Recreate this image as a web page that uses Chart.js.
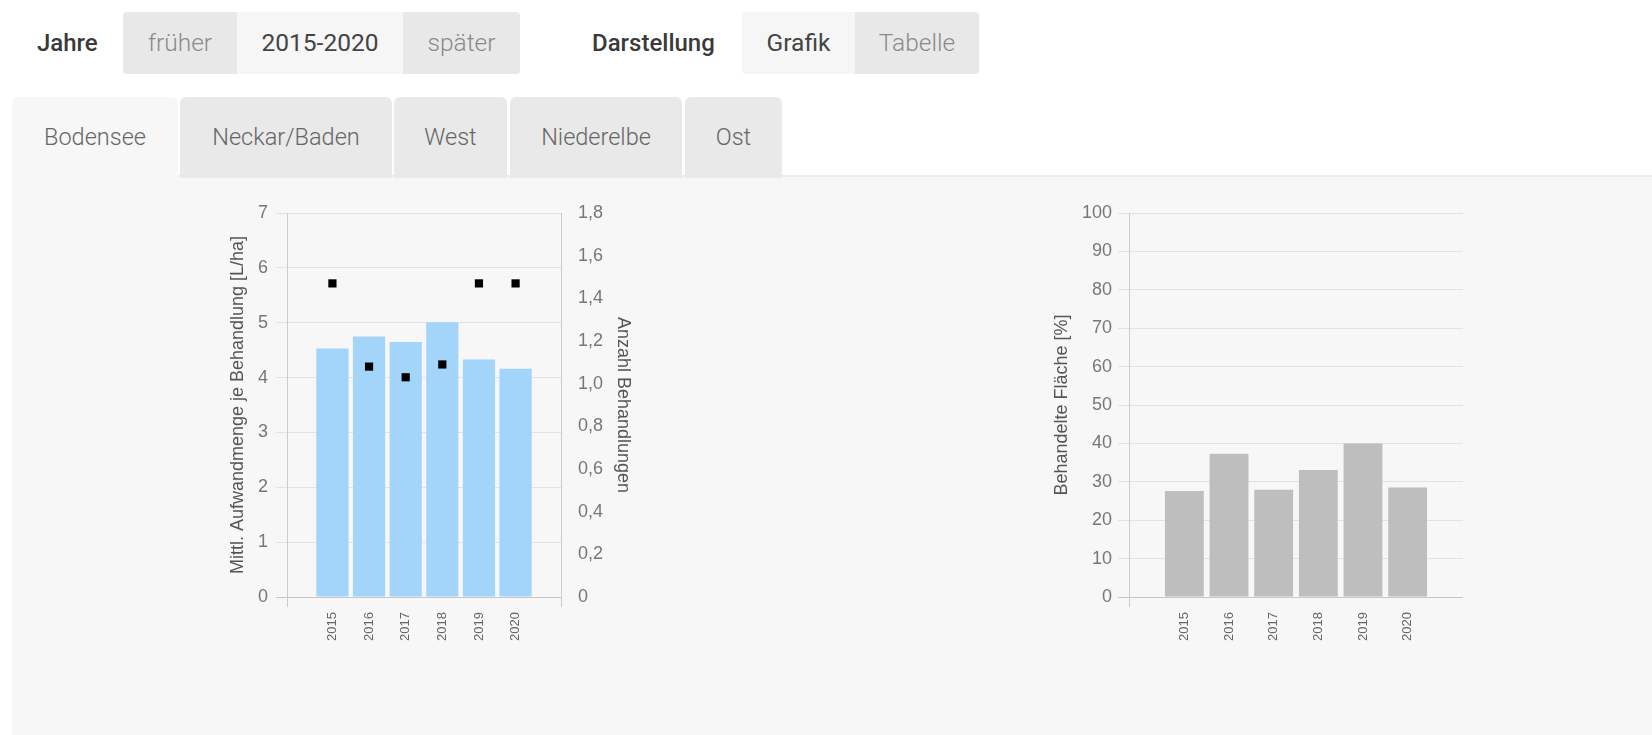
<!DOCTYPE html>
<html><head><meta charset="utf-8">
<script src="https://cdn.jsdelivr.net/npm/chart.js@4.4.1/dist/chart.umd.min.js"></script>
<style>
html,body{margin:0;padding:0;background:#fff;width:1652px;height:735px;overflow:hidden;font-family:Roboto,"Noto Sans",sans-serif;}
.lbl{position:absolute;top:12px;height:62px;line-height:62px;font-size:24px;font-weight:500;color:#3a3a3a;}
.grp{position:absolute;top:12px;height:62px;display:flex;border-radius:4px;overflow:hidden;}
.grp div{height:62px;line-height:62px;text-align:center;font-size:24.5px;}
.off{background:#e8e8e8;color:#8a8a8a;font-weight:300;}
.on{background:#f6f6f6;color:#444;font-weight:400;}
.tabline{position:absolute;left:12px;right:0;top:175px;height:2px;background:#ececec;}
.tab{position:absolute;top:97px;height:81px;line-height:81px;text-align:center;font-size:23.5px;font-weight:300;color:#666;background:#e9e9e9;border-radius:6px 6px 0 0;}
.tab.act{background:#f7f7f7;}
.panel{position:absolute;left:12px;top:177px;right:0;bottom:0;background:#f7f7f7;}
canvas{position:absolute;}
</style></head><body>
<div class="lbl" style="left:37px">Jahre</div>
<div class="grp" style="left:123px;width:397px">
  <div class="off" style="width:114px">früher</div>
  <div class="on" style="width:166px">2015-2020</div>
  <div class="off" style="width:117px">später</div>
</div>
<div class="lbl" style="left:592px">Darstellung</div>
<div class="grp" style="left:742px;width:237px">
  <div class="on" style="width:113px">Grafik</div>
  <div class="off" style="width:124px">Tabelle</div>
</div>
<div class="tabline"></div>
<div class="panel"></div>
<div class="tab act" style="left:12px;width:166px">Bodensee</div>
<div class="tab" style="left:180px;width:212px">Neckar/Baden</div>
<div class="tab" style="left:394px;width:113px">West</div>
<div class="tab" style="left:510px;width:172px">Niederelbe</div>
<div class="tab" style="left:685px;width:97px">Ost</div>

<canvas id="c1" width="460" height="460" style="left:200px;top:190px"></canvas>
<canvas id="c2" width="460" height="460" style="left:1030px;top:190px"></canvas>

<script>
// ---- data ----
const years = [2015, 2016, 2017, 2018, 2019, 2020];
const aufwandmenge = [4.53, 4.75, 4.65, 5.01, 4.33, 4.16];      // L/ha (left axis)
const anzahlBehandlungen = [1.47, 1.08, 1.03, 1.09, 1.47, 1.47]; // right axis
const behandelteFlaeche = [27.6, 37.3, 27.9, 33.1, 40.0, 28.5];  // %
const leftAxisRange = [0, 7];
const rightAxisRange = [0, 1.8];
const flaecheAxisRange = [0, 100];
const leftStep = 1, rightStep = 0.2, flaecheStep = 10;
const xPad = 1.24;

const xMin = years[0] - xPad, xMax = years[years.length - 1] + xPad;
const FONT = "'Liberation Sans', Arial, sans-serif";
const tickColor = '#777';
const titleColor = '#555';

// axis frame lines at the plot edges, extended slightly below the baseline
const edgeLines = {
  id: 'edgeLines',
  afterDraw(chart, args, opts) {
    const {ctx, chartArea: a} = chart;
    ctx.save();
    ctx.strokeStyle = opts.color || '#ccc';
    ctx.lineWidth = 1;
    const xs = [a.left];
    if (opts.right) xs.push(a.right);
    xs.forEach(x => {
      const px = Math.round(x) + 0.5;
      ctx.beginPath();
      ctx.moveTo(px, a.top);
      ctx.lineTo(px, a.bottom + (opts.ext || 10));
      ctx.stroke();
    });
    ctx.restore();
  }
};

function xScale() {
  return {
    type: 'linear', min: xMin, max: xMax, offset: false,
    afterBuildTicks: s => { s.ticks = years.map(v => ({value: v})); },
    afterFit: s => { s.height = 53; },
    ticks: {
      autoSkip: false, minRotation: 90, maxRotation: 90, padding: 15,
      color: '#666', font: {family: FONT, size: 13},
      callback: v => String(v)
    },
    grid: {display: false, drawTicks: false, offset: false},
    border: {display: false}
  };
}
function gridColor(c) { return (c.tick && c.tick.value === 0) ? '#c8c8c8' : '#e2e2e2'; }

Chart.defaults.font.family = FONT;

new Chart(document.getElementById('c1'), {
  type: 'bar',
  data: {
    datasets: [
      {
        type: 'line', label: 'Anzahl Behandlungen', yAxisID: 'y1', order: 0,
        data: years.map((y, i) => ({x: y, y: anzahlBehandlungen[i]})),
        showLine: false, pointStyle: 'rect', pointRadius: 5.8, pointHoverRadius: 5.8,
        pointBackgroundColor: '#000', pointBorderColor: '#000', pointBorderWidth: 0
      },
      {
        type: 'bar', label: 'Aufwandmenge', yAxisID: 'y', order: 1,
        data: years.map((y, i) => ({x: y, y: aufwandmenge[i]})),
        backgroundColor: '#a3d4fa', borderWidth: 0,
        categoryPercentage: 1, barPercentage: 0.88
      }
    ]
  },
  options: {
    responsive: false, animation: false, devicePixelRatio: 1,
    layout: {autoPadding: false, padding: {top: 23, right: 0, bottom: 0, left: 0}},
    plugins: {legend: {display: false}, tooltip: {enabled: false}, edgeLines: {right: true, ext: 10, color: '#cccccc'}},
    scales: {
      x: xScale(),
      y: {
        position: 'left', min: leftAxisRange[0], max: leftAxisRange[1],
        afterFit: s => { s.width = 87; },
        ticks: {stepSize: leftStep, padding: 8, color: tickColor, font: {family: FONT, size: 18},
          callback: v => String(v)},
        grid: {color: gridColor, tickLength: 11, drawTicks: true},
        border: {display: false},
        title: {display: true, text: 'Mittl. Aufwandmenge je Behandlung [L/ha]', color: titleColor,
          font: {family: FONT, size: 18, lineHeight: 1.2}, padding: {top: 27, bottom: 0}}
      },
      y1: {
        position: 'right', min: rightAxisRange[0], max: rightAxisRange[1],
        afterFit: s => { s.width = 99; },
        ticks: {stepSize: rightStep, padding: 11, color: tickColor, font: {family: FONT, size: 18},
          callback: v => Math.abs(v) < 1e-9 ? '0' : v.toFixed(1).replace('.', ',')},
        grid: {display: true, drawOnChartArea: false, drawTicks: true, tickLength: 6,
          color: 'rgba(0,0,0,0)', tickColor: 'rgba(0,0,0,0)'},
        border: {display: false},
        title: {display: true, text: 'Anzahl Behandlungen', color: titleColor,
          font: {family: FONT, size: 18, lineHeight: 1.2}, padding: {top: 26, bottom: 0}}
      }
    }
  },
  plugins: [edgeLines]
});

new Chart(document.getElementById('c2'), {
  type: 'bar',
  data: {
    datasets: [{
      label: 'Behandelte Fläche', yAxisID: 'y',
      data: years.map((y, i) => ({x: y, y: behandelteFlaeche[i]})),
      backgroundColor: '#bebebe', borderWidth: 0,
      categoryPercentage: 1, barPercentage: 0.87
    }]
  },
  options: {
    responsive: false, animation: false, devicePixelRatio: 1,
    layout: {autoPadding: false, padding: {top: 23, right: 27, bottom: 0, left: 0}},
    plugins: {legend: {display: false}, tooltip: {enabled: false}, edgeLines: {right: false, ext: 10, color: '#cccccc'}},
    scales: {
      x: xScale(),
      y: {
        position: 'left', min: flaecheAxisRange[0], max: flaecheAxisRange[1],
        afterFit: s => { s.width = 99; },
        ticks: {stepSize: flaecheStep, padding: 6, color: tickColor, font: {family: FONT, size: 18},
          callback: v => String(v)},
        grid: {color: gridColor, tickLength: 11, drawTicks: true},
        border: {display: false},
        title: {display: true, text: 'Behandelte Fläche [%]', color: titleColor,
          font: {family: FONT, size: 18, lineHeight: 1.2}, padding: {top: 21, bottom: 0}}
      }
    }
  },
  plugins: [edgeLines]
});
</script>
</body></html>
